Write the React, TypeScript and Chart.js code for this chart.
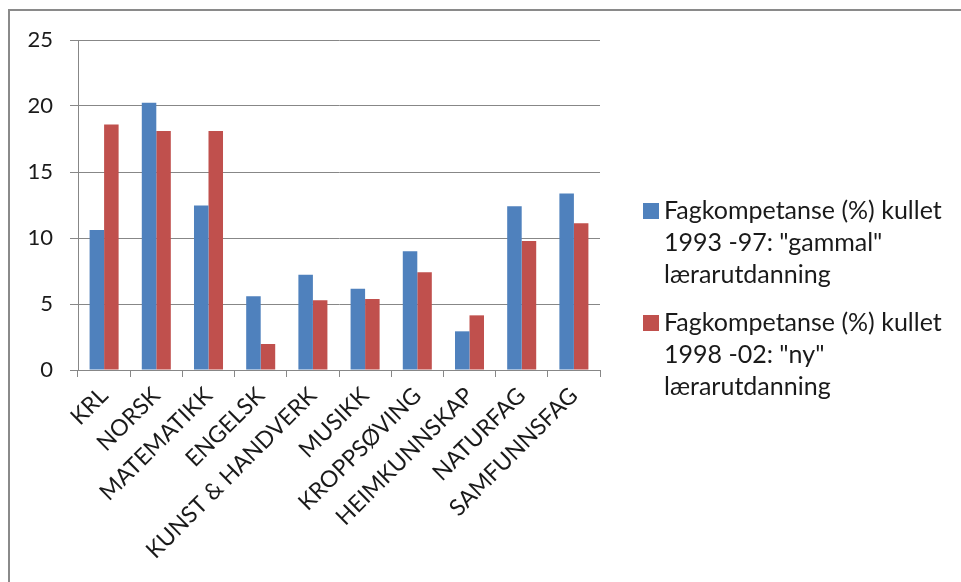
import React, { useEffect, useRef } from "react";
import { Chart, registerables } from "chart.js";

Chart.register(...registerables);

const categories = [
  "KRL",
  "NORSK",
  "MATEMATIKK",
  "ENGELSK",
  "KUNST & HANDVERK",
  "MUSIKK",
  "KROPPSØVING",
  "HEIMKUNNSKAP",
  "NATURFAG",
  "SAMFUNNSFAG",
];

const seriesOld = [10.6, 20.25, 12.47, 5.58, 7.22, 6.16, 8.99, 2.93, 12.4, 13.38];
const seriesNew = [18.6, 18.1, 18.1, 1.97, 5.28, 5.38, 7.4, 4.14, 9.77, 11.11];

const legendOld = ["Fagkompetanse (%) kullet", "1993 -97: \"gammal\"", "lærarutdanning"];
const legendNew = ["Fagkompetanse (%) kullet", "1998 -02: \"ny\"", "lærarutdanning"];

const yTicks = [0, 5, 10, 15, 20, 25];

const BLUE = "#4F81BD";
const RED = "#C0504D";
const GRID = "#878787";
const TEXT = "#1a1a1a";
const FONT = "Lato, 'Open Sans', sans-serif";

const framePlugin = {
  id: "frame",
  beforeDraw(chart: any) {
    const ctx = chart.ctx;
    ctx.save();
    ctx.fillStyle = "#ffffff";
    ctx.fillRect(0, 0, chart.width, chart.height);
    ctx.fillStyle = "#8a8a8a";
    ctx.fillRect(8, 9, 2, chart.height);
    ctx.fillRect(8, 9, chart.width, 2);
    ctx.restore();
  },
};

const legendPlugin = {
  id: "customLegend",
  afterDraw(chart: any) {
    const ctx = chart.ctx;
    ctx.save();
    ctx.font = `25px ${FONT}`;
    ctx.textBaseline = "middle";
    ctx.textAlign = "left";
    const entries = [
      { color: BLUE, lines: legendOld, top: 211 },
      { color: RED, lines: legendNew, top: 323 },
    ];
    const lineH = 32;
    entries.forEach((e) => {
      ctx.fillStyle = e.color;
      ctx.fillRect(643, e.top - 8, 16, 16);
      ctx.fillStyle = TEXT;
      e.lines.forEach((ln, i) => {
        ctx.fillText(ln, 664, e.top + i * lineH);
      });
    });
    ctx.restore();
  },
};

export default function App() {
  const ref = useRef<HTMLCanvasElement | null>(null);
  useEffect(() => {
    if (!ref.current) return;
    const chart = new Chart(ref.current, {
      type: "bar",
      data: {
        labels: categories,
        datasets: [
          {
            label: legendOld.join(" "),
            data: seriesOld,
            backgroundColor: BLUE,
            borderWidth: 0,
            categoryPercentage: 0.556,
            barPercentage: 1,
          },
          {
            label: legendNew.join(" "),
            data: seriesNew,
            backgroundColor: RED,
            borderWidth: 0,
            categoryPercentage: 0.556,
            barPercentage: 1,
          },
        ],
      },
      options: {
        responsive: false,
        animation: false,
        devicePixelRatio: 1,
        layout: { padding: { left: 10, top: 40, right: 361, bottom: 0 } },
        plugins: {
          legend: { display: false },
          tooltip: { enabled: false },
        },
        scales: {
          x: {
            afterFit: (s: any) => {
              s.height = 212;
            },
            grid: {
              display: true,
              offset: true,
              drawOnChartArea: false,
              drawTicks: true,
              tickLength: 7,
              color: GRID,
            },
            border: { display: true, color: GRID, width: 1 },
            ticks: {
              minRotation: 45,
              maxRotation: 45,
              autoSkip: false,
              color: TEXT,
              font: { family: FONT, size: 23 },
              padding: 5,
            },
          },
          y: {
            min: 0,
            max: 25,
            afterFit: (s: any) => {
              s.width = 68;
            },
            afterBuildTicks: (s: any) => {
              s.ticks = yTicks.map((v) => ({ value: v }));
            },
            grid: {
              display: true,
              drawOnChartArea: true,
              drawTicks: true,
              tickLength: 8,
              color: GRID,
            },
            border: { display: true, color: GRID, width: 1 },
            ticks: {
              color: TEXT,
              font: { family: FONT, size: 22 },
              padding: 17,
            },
          },
        },
      },
      plugins: [framePlugin, legendPlugin],
    });
    return () => chart.destroy();
  }, []);
  return (
    <div style={{ position: "absolute", left: 0, top: 0, width: 961, height: 582 }}>
      <canvas ref={ref} width={961} height={582} style={{ width: 961, height: 582 }} />
    </div>
  );
}
